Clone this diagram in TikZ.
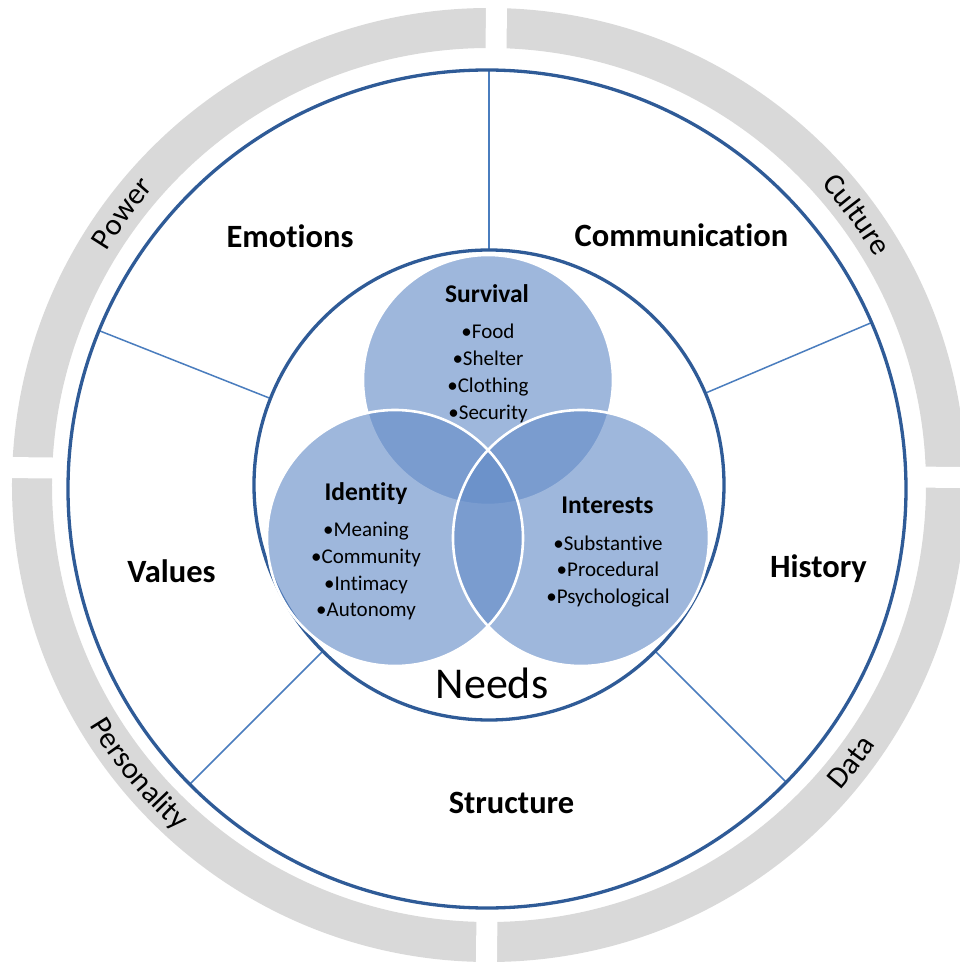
\documentclass[tikz,border=0pt]{standalone}
\usepackage{fontspec}
\setmainfont[Ligatures=NoCommon]{Carlito}
\usetikzlibrary{decorations.text}
\definecolor{ringgray}{HTML}{D9D9D9}
\definecolor{rimblue}{HTML}{2F5B97}
\definecolor{spokeblue}{HTML}{4A7DBE}
\definecolor{vennblue}{RGB}{100,140,200}
\newcommand\ringfont{\fontsize{30.5}{36}\selectfont}

\begin{document}
\begin{tikzpicture}[x=1pt,y=1pt,
  sector/.style={font=\fontsize{32.5}{39}\selectfont\bfseries, anchor=base, inner sep=0pt},
  venntitle/.style={font=\fontsize{25.5}{30}\selectfont\bfseries, anchor=base, inner sep=0pt},
  item/.style={font=\fontsize{21}{25}\selectfont, anchor=base, inner sep=0pt},
  spoke/.style={spokeblue, line width=1.5pt},
  rim/.style={rimblue, line width=3.3pt},
  venn/.style={fill=vennblue, fill opacity=0.62},
  vennrim/.style={draw=white, line width=2.6pt},
  ringtext/.style={decorate, decoration={text along path, text align=center, text={|\ringfont|#1}}},
]
\useasboundingbox (-489,-479) rectangle (470,485);

% outer grey ring, split into four quarters
\fill[ringgray, even odd rule] (0,0) circle[radius=477] (0,0) circle[radius=437];
\begin{scope}[shift={(2.6,12.4)}, rotate=-0.6]
  \foreach \a in {0,90,180,270}
    \draw[white, line width=21pt] (\a:400) -- (\a:510);
\end{scope}

% labels on the ring
\path[ringtext=Power]       (183.5:448) arc[start angle=183.5, end angle=103.5, radius=448];
\path[ringtext=Culture]     (76.3:448)  arc[start angle=76.3,  end angle=-3.7,  radius=448];
\path[ringtext=Personality] (179.5:466) arc[start angle=179.5, end angle=259.5, radius=466];
\path[ringtext=Data]        (282.6:466) arc[start angle=282.6, end angle=362.6, radius=466];

% main disc and its five sectors
\fill[white] (-2,-4) circle[radius=419];
\foreach \a/\r in {90/415, 158.4/419.4, 23/415.6, 225/423, 315/420.4}
  \draw[spoke] (\a:235) -- (\a:\r);
\draw[rim] (-2,-4) circle[radius=419];
\draw[rim] (0,0) circle[radius=235];

\node[sector] (emotions) at (-199,237) {Emotions};
\node[sector] (communication) at (192.5,238) {Communication};
\node[sector] (values) at (-317.5,-97) {Values};
\node[sector] (history) at (329.5,-92) {History};
\node[sector] (structure) at (22.5,-328) {Structure};

% the three needs
\fill[venn] (-1,105) circle[radius=125];
\draw[vennrim] (-1,105) circle[radius=125];
\fill[venn] (-94,-53) circle[radius=128];
\fill[venn] (92,-53) circle[radius=128];
\draw[vennrim] (-94,-53) circle[radius=128];
\draw[vennrim] (92,-53) circle[radius=128];

\node[venntitle] (survival) at (-2,182) {Survival};
\foreach \t [count=\i] in {Food,Shelter,Clothing,Security}
  \node[item] (survival-\i) at (-1,{146-26.7*(\i-1)}) {\textbullet\t};

\node[venntitle] (identity) at (-123,-15) {Identity};
\foreach \t [count=\i] in {Meaning,Community,Intimacy,Autonomy}
  \node[item] (identity-\i) at (-123,{-51.7-26.7*(\i-1)}) {\textbullet\t};

\node[venntitle] (interests) at (118.5,-28) {Interests};
\foreach \t [count=\i] in {Substantive,Procedural,Psychological}
  \node[item] (interests-\i) at (119,{-65-26.7*(\i-1)}) {\textbullet\t};

\node[font=\fontsize{44}{52}\selectfont, anchor=base, inner sep=0pt] (needs) at (3,-213) {Needs};
\end{tikzpicture}
\end{document}
